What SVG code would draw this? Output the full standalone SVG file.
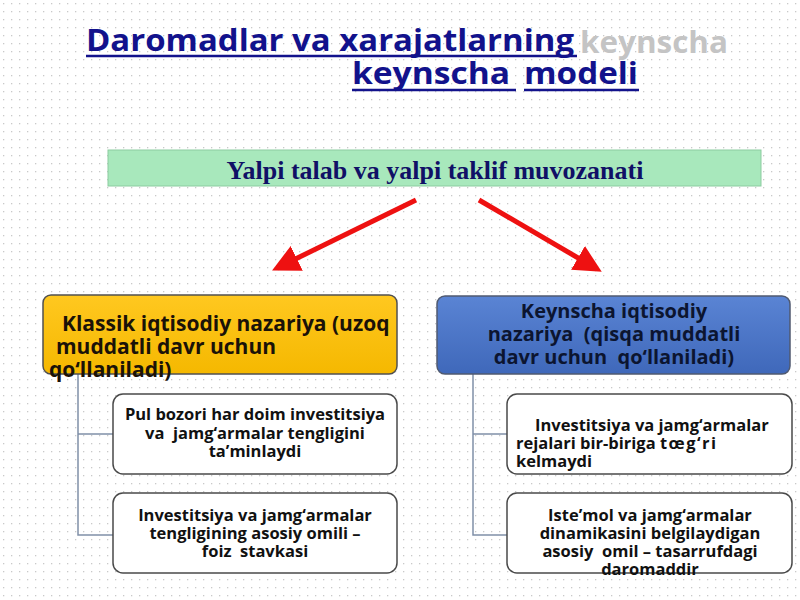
<svg xmlns="http://www.w3.org/2000/svg" width="800" height="600" viewBox="0 0 800 600">
<defs>
<pattern id="dots" width="8" height="8" patternUnits="userSpaceOnUse">
<rect x="3" y="3" width="1.3" height="1.3" fill="#c9c9c9"/>
</pattern>
<linearGradient id="gold" x1="0" y1="0" x2="0" y2="1">
<stop offset="0" stop-color="#ffc820"/>
<stop offset="1" stop-color="#f5b800"/>
</linearGradient>
<linearGradient id="blue" x1="0" y1="0" x2="0" y2="1">
<stop offset="0" stop-color="#5a84d4"/>
<stop offset="1" stop-color="#3f68ba"/>
</linearGradient>
<marker id="ah" viewBox="0 0 10 10" refX="8" refY="5" markerWidth="5.5" markerHeight="5.5" orient="auto" markerUnits="strokeWidth">
<path d="M0,0 L10,5 L0,10 z" fill="#ee1111"/>
</marker>
<style>
text{white-space:pre;}
.title{font-family:"Open Sans","Noto Sans",sans-serif;font-weight:700;font-size:31px;fill:#12128c;}
.ghost{font-family:"Open Sans","Noto Sans",sans-serif;font-weight:700;font-size:31px;fill:#c4c4c4;}
.ul{stroke:#12128c;stroke-width:2.5;}
.hdr{font-family:"Liberation Serif",serif;font-weight:700;font-size:26px;fill:#101066;}
.big{font-family:"Open Sans","Noto Sans",sans-serif;font-weight:700;font-size:21px;fill:#1a1208;}
.bigb{font-family:"Open Sans","Noto Sans",sans-serif;font-weight:700;font-size:20px;fill:#0c1530;}
.sm{font-family:"Open Sans","Noto Sans",sans-serif;font-weight:700;font-size:16.5px;fill:#111;}
.box{fill:#ffffff;stroke:#4a4a4a;stroke-width:1.5;}
.conn{fill:none;stroke:#8090a8;stroke-width:1.5;}
.arrow{stroke:#ee1111;stroke-width:5;fill:none;}
</style>
</defs>
<rect width="800" height="600" fill="#ffffff"/>
<rect width="800" height="600" fill="url(#dots)"/>

<g id="title">
<text class="ghost" x="580" y="53" textLength="148" lengthAdjust="spacingAndGlyphs">keynscha</text>
<text class="title" x="86" y="51" textLength="488" lengthAdjust="spacingAndGlyphs">Daromadlar va xarajatlarning</text>
<line class="ul" x1="86" y1="56" x2="577" y2="56"/>
<text class="title" x="352" y="84" textLength="158" lengthAdjust="spacingAndGlyphs">keynscha</text>
<line class="ul" x1="352" y1="90" x2="516" y2="90"/>
<text class="title" x="524" y="84" textLength="114" lengthAdjust="spacingAndGlyphs">modeli</text>
<line class="ul" x1="524" y1="90" x2="639" y2="90"/>
</g>

<g id="header">
<rect x="108" y="150" width="653" height="36" fill="#a8e8bc" stroke="#8ccca0" stroke-width="1"/>
<text class="hdr" x="435" y="179" text-anchor="middle">Yalpi talab va yalpi taklif muvozanati</text>
</g>

<g id="connectors">
<line class="arrow" x1="416" y1="200" x2="277" y2="268" marker-end="url(#ah)"/>
<line class="arrow" x1="479" y1="200" x2="597" y2="269" marker-end="url(#ah)"/>
<path class="conn" d="M78,374 V535 H113 M78,434 H113"/>
<path class="conn" d="M473,374 V535 H507 M473,434 H507"/>
</g>

<g id="classic">
<rect x="43" y="295" width="354" height="79" rx="8" fill="url(#gold)" stroke="#505050" stroke-width="1.5"/>
<text class="big" x="62" y="331">Klassik iqtisodiy nazariya (uzoq</text>
<text class="big" x="56" y="354">muddatli davr uchun</text>
<text class="big" x="49" y="377">qo‘llaniladi)</text>
</g>

<g id="keynes">
<rect x="437" y="296" width="353" height="78" rx="8" fill="url(#blue)" stroke="#505a70" stroke-width="1.5"/>
<text class="bigb" x="614" y="318" text-anchor="middle">Keynscha iqtisodiy</text>
<text class="bigb" x="614" y="341" text-anchor="middle">nazariya  (qisqa muddatli</text>
<text class="bigb" x="614" y="364" text-anchor="middle">davr uchun  qo‘llaniladi)</text>
</g>

<g id="c1">
<rect class="box" x="113" y="394" width="284" height="80" rx="10"/>
<text class="sm" x="255" y="420" text-anchor="middle">Pul bozori har doim investitsiya</text>
<text class="sm" x="255" y="439" text-anchor="middle">va  jamg‘armalar tengligini</text>
<text class="sm" x="255" y="457" text-anchor="middle">ta’minlaydi</text>
</g>

<g id="c2">
<rect class="box" x="113" y="493" width="284" height="80" rx="10"/>
<text class="sm" x="255" y="521" text-anchor="middle">Investitsiya va jamg‘armalar</text>
<text class="sm" x="255" y="539" text-anchor="middle">tengligining asosiy omili –</text>
<text class="sm" x="255" y="557" text-anchor="middle">foiz  stavkasi</text>
</g>

<g id="k1">
<rect class="box" x="507" y="394" width="285" height="80" rx="10"/>
<text class="sm" x="535" y="431">Investitsiya va jamg‘armalar</text>
<text class="sm" x="516" y="449">rejalari bir-biriga <tspan letter-spacing="1.5">tœg‘ri</tspan></text>
<text class="sm" x="516" y="467">kelmaydi</text>
</g>

<g id="k2">
<rect class="box" x="507" y="493" width="285" height="80" rx="10"/>
<text class="sm" x="650" y="521" text-anchor="middle">Iste’mol va jamg‘armalar</text>
<text class="sm" x="650" y="539" text-anchor="middle">dinamikasini belgilaydigan</text>
<text class="sm" x="650" y="557" text-anchor="middle">asosiy  omil – tasarrufdagi</text>
<text class="sm" x="650" y="575" text-anchor="middle">daromaddir</text>
</g>
</svg>
